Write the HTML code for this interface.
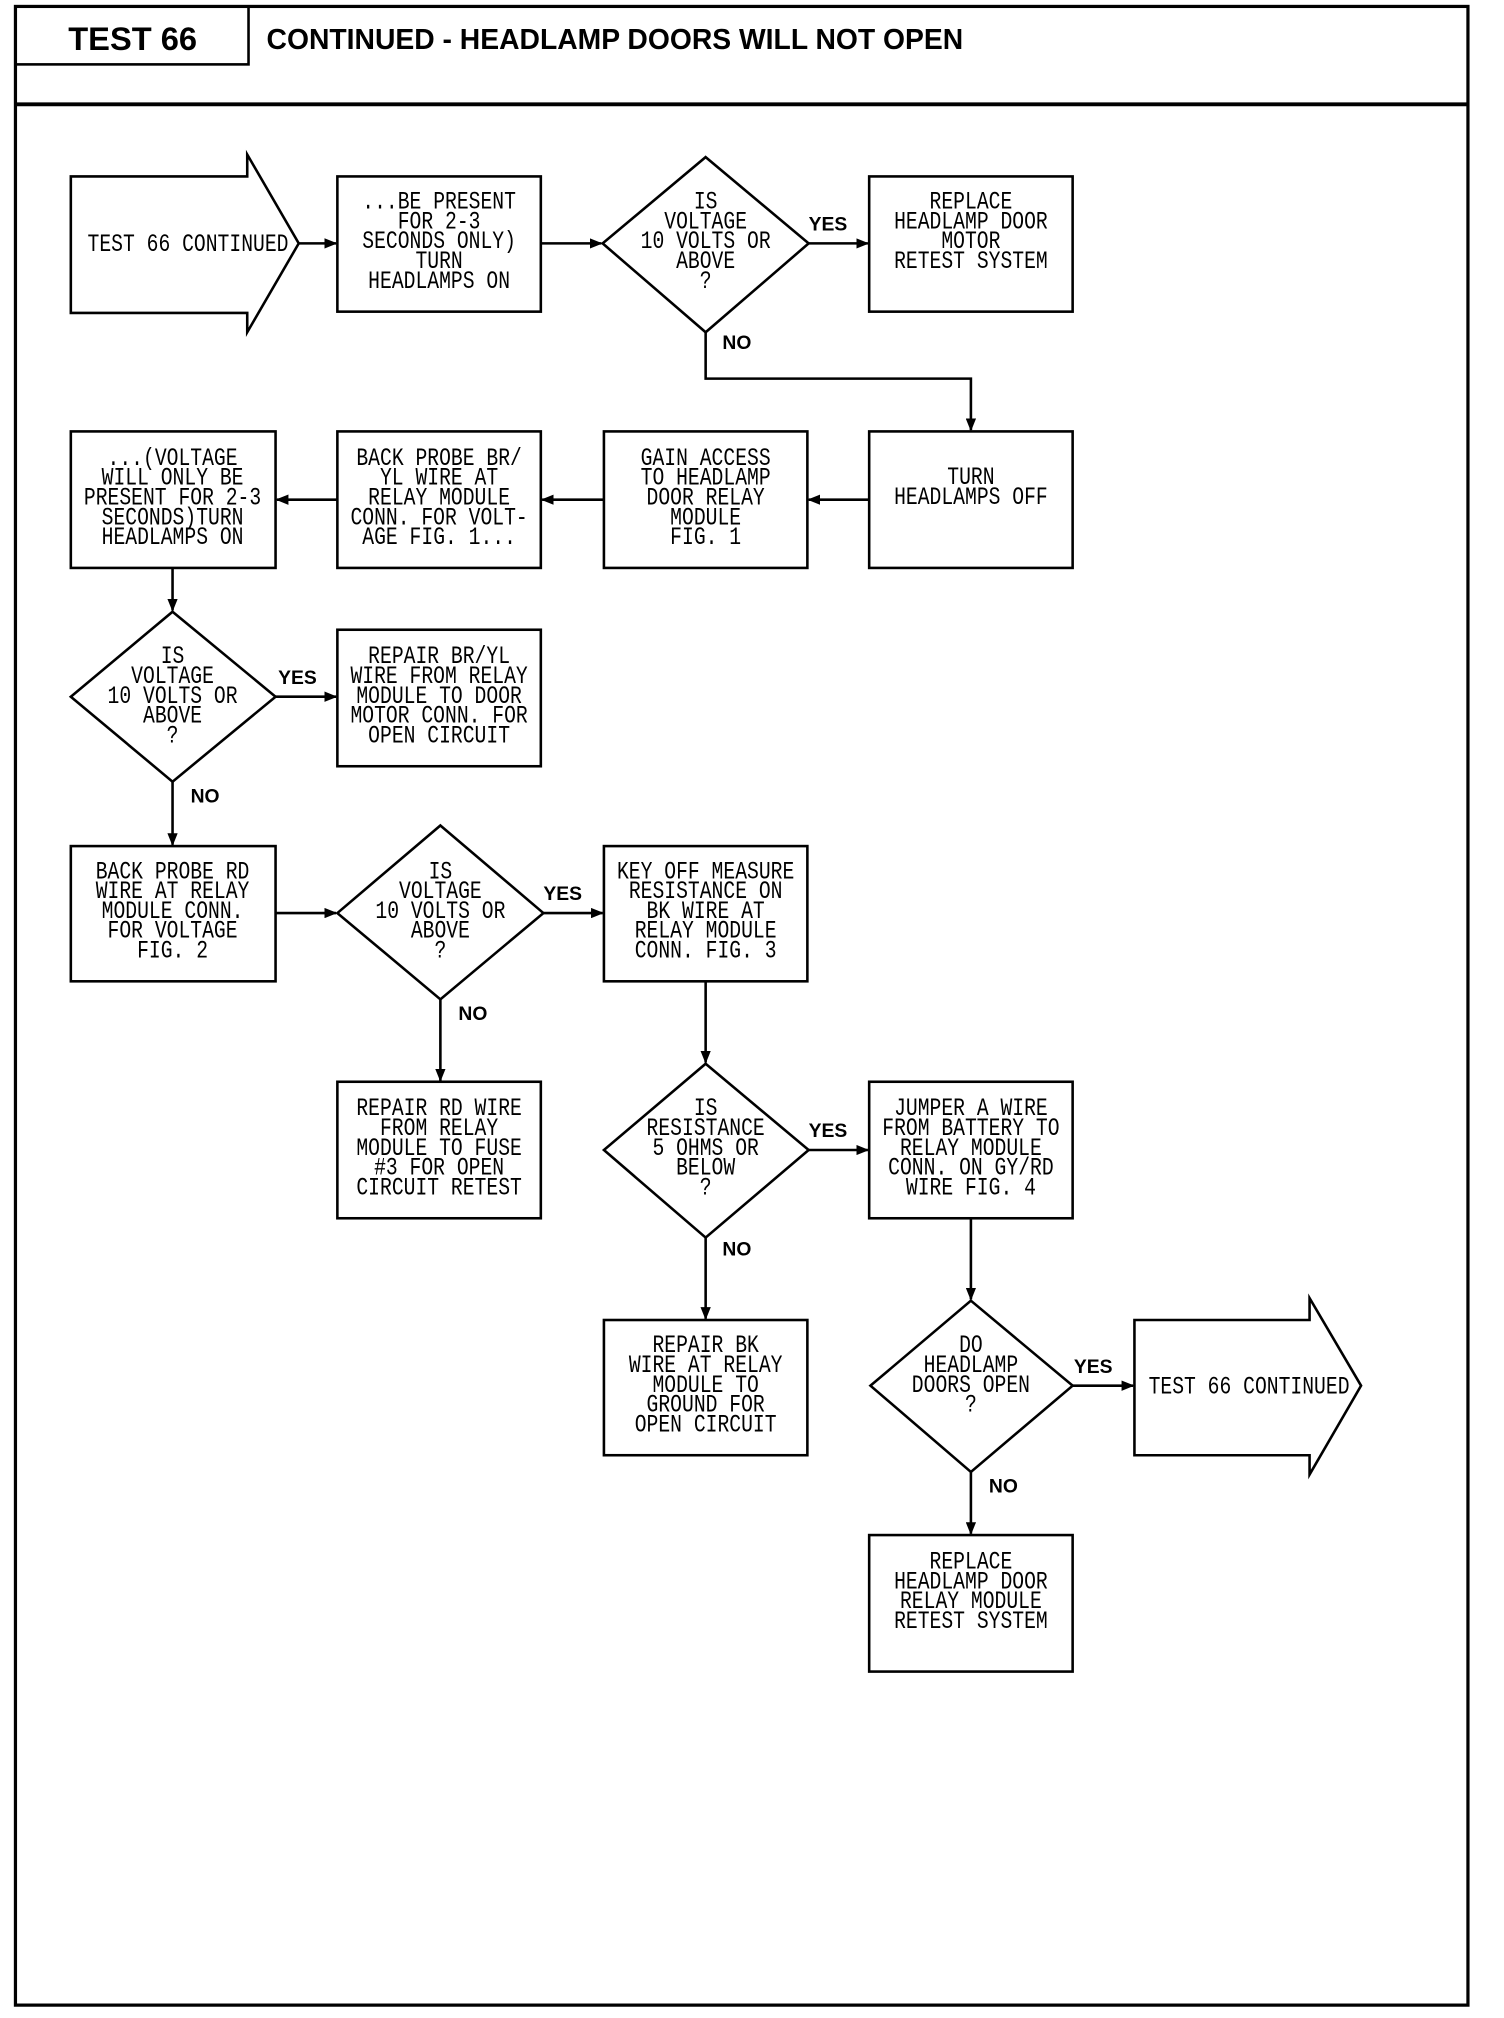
<!DOCTYPE html>
<html><head><meta charset="utf-8"><style>
html,body{margin:0;padding:0;background:#fff;}
svg{display:block}
.t{font-family:"Liberation Mono",monospace;font-size:15.3px;text-anchor:middle;fill:#000}
.l{font-family:"Liberation Sans",sans-serif;font-size:15px;font-weight:bold;fill:#000}
</style></head><body>
<svg width="1504" height="2018" viewBox="0 0 1168 1567" preserveAspectRatio="none" xmlns="http://www.w3.org/2000/svg">
<defs><marker id="a" markerWidth="10" markerHeight="8" refX="9" refY="4" orient="auto" markerUnits="userSpaceOnUse"><path d="M0,0 L10,4 L0,8 Z" fill="#000"/></marker></defs>
<g fill="none" stroke="#000" stroke-width="2">
<rect x="12" y="5" width="1128" height="1552" stroke-width="2.5"/>
<line x1="12" y1="81" x2="1140" y2="81" stroke-width="3"/>
<rect x="12" y="5" width="181" height="45"/>
<path d="M55,137 H192 V120 L232,189 L192,258 V243 H55 Z"/>
<rect x="262" y="137" width="158" height="105"/>
<path d="M548,122 L628,189 L548,258 L468,189 Z"/>
<rect x="675" y="137" width="158" height="105"/>
<rect x="55" y="335" width="159" height="106"/>
<rect x="262" y="335" width="158" height="106"/>
<rect x="469" y="335" width="158" height="106"/>
<rect x="675" y="335" width="158" height="106"/>
<path d="M134,475 L214,541 L134,607 L55,541 Z"/>
<rect x="262" y="489" width="158" height="106"/>
<rect x="55" y="657" width="159" height="105"/>
<path d="M342,641 L422,709 L342,776 L262,709 Z"/>
<rect x="469" y="657" width="158" height="105"/>
<rect x="262" y="840" width="158" height="106"/>
<path d="M548,826 L628,893 L548,961 L469,893 Z"/>
<rect x="675" y="840" width="158" height="106"/>
<rect x="469" y="1025" width="158" height="105"/>
<path d="M754,1010 L833,1076 L754,1143 L676,1076 Z"/>
<path d="M881,1025 H1017 V1008 L1057,1076 L1017,1145 V1130 H881 Z"/>
<rect x="675" y="1192" width="158" height="106"/>
</g>
<g stroke="#000" stroke-width="2" fill="none" marker-end="url(#a)">
<line x1="232" y1="189" x2="261" y2="189"/>
<line x1="420" y1="189" x2="467" y2="189"/>
<line x1="628" y1="189" x2="674" y2="189"/>
<polyline points="548,258 548,294 754,294 754,334"/>
<line x1="675" y1="388" x2="628" y2="388"/>
<line x1="469" y1="388" x2="421" y2="388"/>
<line x1="262" y1="388" x2="215" y2="388"/>
<line x1="134" y1="441" x2="134" y2="474"/>
<line x1="214" y1="541" x2="261" y2="541"/>
<line x1="134" y1="607" x2="134" y2="656"/>
<line x1="214" y1="709" x2="261" y2="709"/>
<line x1="422" y1="709" x2="468" y2="709"/>
<line x1="342" y1="776" x2="342" y2="839"/>
<line x1="548" y1="762" x2="548" y2="825"/>
<line x1="628" y1="893" x2="674" y2="893"/>
<line x1="548" y1="961" x2="548" y2="1024"/>
<line x1="754" y1="946" x2="754" y2="1009"/>
<line x1="833" y1="1076" x2="880" y2="1076"/>
<line x1="754" y1="1143" x2="754" y2="1191"/>
</g>
<text x="53" y="39" textLength="100" lengthAdjust="spacingAndGlyphs" style="font-family:'Liberation Sans',sans-serif;font-size:25px;font-weight:bold">TEST 66</text>
<text x="207" y="38" textLength="541" lengthAdjust="spacingAndGlyphs" style="font-family:'Liberation Sans',sans-serif;font-size:22px;font-weight:bold">CONTINUED - HEADLAMP DOORS WILL NOT OPEN</text>
<g class="l">
<text x="628" y="179">YES</text><text x="561" y="271">NO</text>
<text x="216" y="531">YES</text><text x="148" y="623">NO</text>
<text x="422" y="699">YES</text><text x="356" y="792">NO</text>
<text x="628" y="883">YES</text><text x="561" y="975">NO</text>
<text x="834" y="1066">YES</text><text x="768" y="1159">NO</text>
</g>
<g class="t">
<text transform="translate(146,195) scale(1,1.25)">TEST 66 CONTINUED</text>
<text transform="translate(970,1082) scale(1,1.25)" x="0">TEST 66 CONTINUED</text>
<text transform="translate(341,162) scale(1,1.25)"><tspan x="0">...BE PRESENT</tspan><tspan x="0" dy="12.3">FOR 2-3</tspan><tspan x="0" dy="12.3">SECONDS ONLY)</tspan><tspan x="0" dy="12.3">TURN</tspan><tspan x="0" dy="12.3">HEADLAMPS ON</tspan></text>
<text transform="translate(548,162) scale(1,1.25)"><tspan x="0">IS</tspan><tspan x="0" dy="12.3">VOLTAGE</tspan><tspan x="0" dy="12.3">10 VOLTS OR</tspan><tspan x="0" dy="12.3">ABOVE</tspan><tspan x="0" dy="12.3">?</tspan></text>
<text transform="translate(754,162) scale(1,1.25)"><tspan x="0">REPLACE</tspan><tspan x="0" dy="12.3">HEADLAMP DOOR</tspan><tspan x="0" dy="12.3">MOTOR</tspan><tspan x="0" dy="12.3">RETEST SYSTEM</tspan></text>
<text transform="translate(134,361) scale(1,1.25)"><tspan x="0">...(VOLTAGE</tspan><tspan x="0" dy="12.3">WILL ONLY BE</tspan><tspan x="0" dy="12.3">PRESENT FOR 2-3</tspan><tspan x="0" dy="12.3">SECONDS)TURN</tspan><tspan x="0" dy="12.3">HEADLAMPS ON</tspan></text>
<text transform="translate(341,361) scale(1,1.25)"><tspan x="0">BACK PROBE BR/</tspan><tspan x="0" dy="12.3">YL WIRE AT</tspan><tspan x="0" dy="12.3">RELAY MODULE</tspan><tspan x="0" dy="12.3">CONN. FOR VOLT-</tspan><tspan x="0" dy="12.3">AGE FIG. 1...</tspan></text>
<text transform="translate(548,361) scale(1,1.25)"><tspan x="0">GAIN ACCESS</tspan><tspan x="0" dy="12.3">TO HEADLAMP</tspan><tspan x="0" dy="12.3">DOOR RELAY</tspan><tspan x="0" dy="12.3">MODULE</tspan><tspan x="0" dy="12.3">FIG. 1</tspan></text>
<text transform="translate(754,376) scale(1,1.25)"><tspan x="0">TURN</tspan><tspan x="0" dy="12.3">HEADLAMPS OFF</tspan></text>
<text transform="translate(134,515) scale(1,1.25)"><tspan x="0">IS</tspan><tspan x="0" dy="12.3">VOLTAGE</tspan><tspan x="0" dy="12.3">10 VOLTS OR</tspan><tspan x="0" dy="12.3">ABOVE</tspan><tspan x="0" dy="12.3">?</tspan></text>
<text transform="translate(341,515) scale(1,1.25)"><tspan x="0">REPAIR BR/YL</tspan><tspan x="0" dy="12.3">WIRE FROM RELAY</tspan><tspan x="0" dy="12.3">MODULE TO DOOR</tspan><tspan x="0" dy="12.3">MOTOR CONN. FOR</tspan><tspan x="0" dy="12.3">OPEN CIRCUIT</tspan></text>
<text transform="translate(134,682) scale(1,1.25)"><tspan x="0">BACK PROBE RD</tspan><tspan x="0" dy="12.3">WIRE AT RELAY</tspan><tspan x="0" dy="12.3">MODULE CONN.</tspan><tspan x="0" dy="12.3">FOR VOLTAGE</tspan><tspan x="0" dy="12.3">FIG. 2</tspan></text>
<text transform="translate(342,682) scale(1,1.25)"><tspan x="0">IS</tspan><tspan x="0" dy="12.3">VOLTAGE</tspan><tspan x="0" dy="12.3">10 VOLTS OR</tspan><tspan x="0" dy="12.3">ABOVE</tspan><tspan x="0" dy="12.3">?</tspan></text>
<text transform="translate(548,682) scale(1,1.25)"><tspan x="0">KEY OFF MEASURE</tspan><tspan x="0" dy="12.3">RESISTANCE ON</tspan><tspan x="0" dy="12.3">BK WIRE AT</tspan><tspan x="0" dy="12.3">RELAY MODULE</tspan><tspan x="0" dy="12.3">CONN. FIG. 3</tspan></text>
<text transform="translate(341,866) scale(1,1.25)"><tspan x="0">REPAIR RD WIRE</tspan><tspan x="0" dy="12.3">FROM RELAY</tspan><tspan x="0" dy="12.3">MODULE TO FUSE</tspan><tspan x="0" dy="12.3">#3 FOR OPEN</tspan><tspan x="0" dy="12.3">CIRCUIT RETEST</tspan></text>
<text transform="translate(548,866) scale(1,1.25)"><tspan x="0">IS</tspan><tspan x="0" dy="12.3">RESISTANCE</tspan><tspan x="0" dy="12.3">5 OHMS OR</tspan><tspan x="0" dy="12.3">BELOW</tspan><tspan x="0" dy="12.3">?</tspan></text>
<text transform="translate(754,866) scale(1,1.25)"><tspan x="0">JUMPER A WIRE</tspan><tspan x="0" dy="12.3">FROM BATTERY TO</tspan><tspan x="0" dy="12.3">RELAY MODULE</tspan><tspan x="0" dy="12.3">CONN. ON GY/RD</tspan><tspan x="0" dy="12.3">WIRE FIG. 4</tspan></text>
<text transform="translate(548,1050) scale(1,1.25)"><tspan x="0">REPAIR BK</tspan><tspan x="0" dy="12.3">WIRE AT RELAY</tspan><tspan x="0" dy="12.3">MODULE TO</tspan><tspan x="0" dy="12.3">GROUND FOR</tspan><tspan x="0" dy="12.3">OPEN CIRCUIT</tspan></text>
<text transform="translate(754,1050) scale(1,1.25)"><tspan x="0">DO</tspan><tspan x="0" dy="12.3">HEADLAMP</tspan><tspan x="0" dy="12.3">DOORS OPEN</tspan><tspan x="0" dy="12.3">?</tspan></text>
<text transform="translate(754,1218) scale(1,1.25)"><tspan x="0">REPLACE</tspan><tspan x="0" dy="12.3">HEADLAMP DOOR</tspan><tspan x="0" dy="12.3">RELAY MODULE</tspan><tspan x="0" dy="12.3">RETEST SYSTEM</tspan></text>
</g>
</svg>
</body></html>
